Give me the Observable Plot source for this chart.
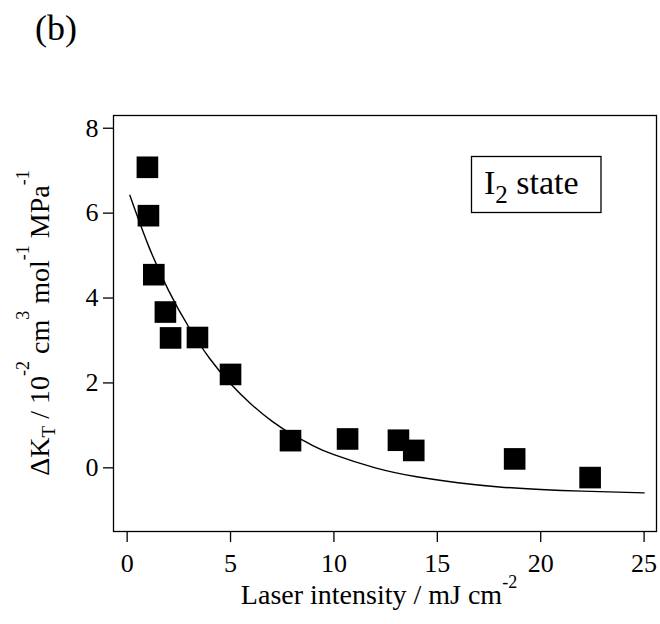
<!DOCTYPE html>
<html><head><meta charset="utf-8">
<script src="https://cdn.jsdelivr.net/npm/d3@7"></script>
<script src="https://cdn.jsdelivr.net/npm/@observablehq/plot@0.6"></script>
<style>
body{margin:0;background:#fff;}
#wrap{position:relative;width:660px;height:624px;font-family:"Liberation Serif","Times New Roman",serif;}
#tag{position:absolute;left:35px;top:10px;font-size:36px;line-height:1;color:#000;}
svg{display:block;}
#wrap svg, #wrap svg text, #wrap svg tspan{font-family:"Liberation Serif","Times New Roman",serif !important;}
</style></head><body>
<div id="wrap"><div id="tag">(b)</div></div>
<script>
// measured data points: laser intensity (mJ cm^-2) vs ΔK_T (10^-2 cm^3 mol^-1 MPa^-1)
const intensity = [0.98, 1.03, 1.29, 1.85, 2.10, 3.40, 5.00, 7.90, 10.66, 13.12, 13.86, 18.74, 22.39];
const deltaKT   = [7.08, 5.94, 4.55, 3.67, 3.06, 3.07, 2.20, 0.64, 0.68, 0.65, 0.41, 0.21, -0.23];
// fitted curve
const fitX = [0.13, 1, 2, 3, 4, 5, 6, 7, 8, 9, 10, 12, 14, 16, 18, 20, 22, 25];
const fitY = [6.42, 5.27, 4.18, 3.30, 2.57, 1.98, 1.50, 1.10, 0.78, 0.52, 0.31, 0.00, -0.21, -0.35, -0.45, -0.51, -0.55, -0.59];
const xTicks = [0, 5, 10, 15, 20, 25];
const yTicks = [0, 2, 4, 6, 8];
const legendText = ["I", "2", " state"];

const points = intensity.map((x, i) => ({x, y: deltaKT[i]}));
const fit = fitX.map((x, i) => ({x, y: fitY[i]}));

const W = 660, H = 624, mL = 113, mR = 4, mT = 115, mB = 93;
const font = '"Liberation Serif","Times New Roman",serif';

const plot = Plot.plot({
  width: W, height: H,
  marginLeft: mL, marginRight: mR, marginTop: mT, marginBottom: mB,
  style: {background: "white", color: "black", overflow: "visible"},
  x: {domain: [-0.66, 25.6]},
  y: {domain: [-1.5, 8.3]},
  marks: [
    Plot.frame({stroke: "black", strokeWidth: 1.3}),
    Plot.axisX(xTicks, {tickSize: 11, tickPadding: 11, label: null, tickFormat: d => String(d),
      fontFamily: font, fontSize: 26, stroke: "black", strokeWidth: 1.3, strokeOpacity: 1}),
    Plot.axisY(yTicks, {tickSize: 10, tickPadding: 5, label: null, tickFormat: d => String(d),
      fontFamily: font, fontSize: 26, stroke: "black", strokeWidth: 1.3, strokeOpacity: 1}),
    Plot.line(fit, {x: "x", y: "y", curve: "natural", stroke: "black", strokeWidth: 1.4}),
    Plot.dot(points, {x: "x", y: "y", symbol: "square", r: 12.2, fill: "black", stroke: "none"})
  ]
});
document.getElementById("wrap").appendChild(plot);

const svg = d3.select(plot);
svg.selectAll("text").style("font-family", font);

function rich(sel, parts) {
  let prev = 0;
  parts.forEach(([t, size, shift]) => {
    sel.append("tspan").text(t).style("font-size", size + "px").attr("dy", shift - prev);
    prev = shift;
  });
}
// y-axis label
const cy = (mT + (H - mB)) / 2;
const yl = svg.append("text")
  .attr("transform", `translate(49,${cy}) rotate(-90)`)
  .attr("text-anchor", "middle").attr("fill", "black")
  .style("font-family", font);
rich(yl, [["ΔK", 28, 0], ["T", 19, 6], [" / 10", 28, 0], ["-2", 18, -20], [" cm", 28, 0], ["3", 18, -20],
          [" mol", 28, 0], ["-1", 18, -20], [" MPa", 28, 0], ["-1", 18, -20]]);
// x-axis label
const xl = svg.append("text")
  .attr("x", 379).attr("y", 604)
  .attr("text-anchor", "middle").attr("fill", "black")
  .style("font-family", font);
rich(xl, [["Laser intensity / mJ cm", 28, 0], ["-2", 18, -16]]);
// legend box
svg.append("rect").attr("x", 471.5).attr("y", 156.5).attr("width", 129.5).attr("height", 56)
  .attr("fill", "white").attr("stroke", "black").attr("stroke-width", 1.3);
const lg = svg.append("text").attr("x", 484).attr("y", 194).attr("fill", "black")
  .attr("text-anchor", "start").style("font-family", font);
rich(lg, [[legendText[0], 34, 0], [legendText[1], 25, 9], [legendText[2], 34, 0]]);
</script>
</body></html>
